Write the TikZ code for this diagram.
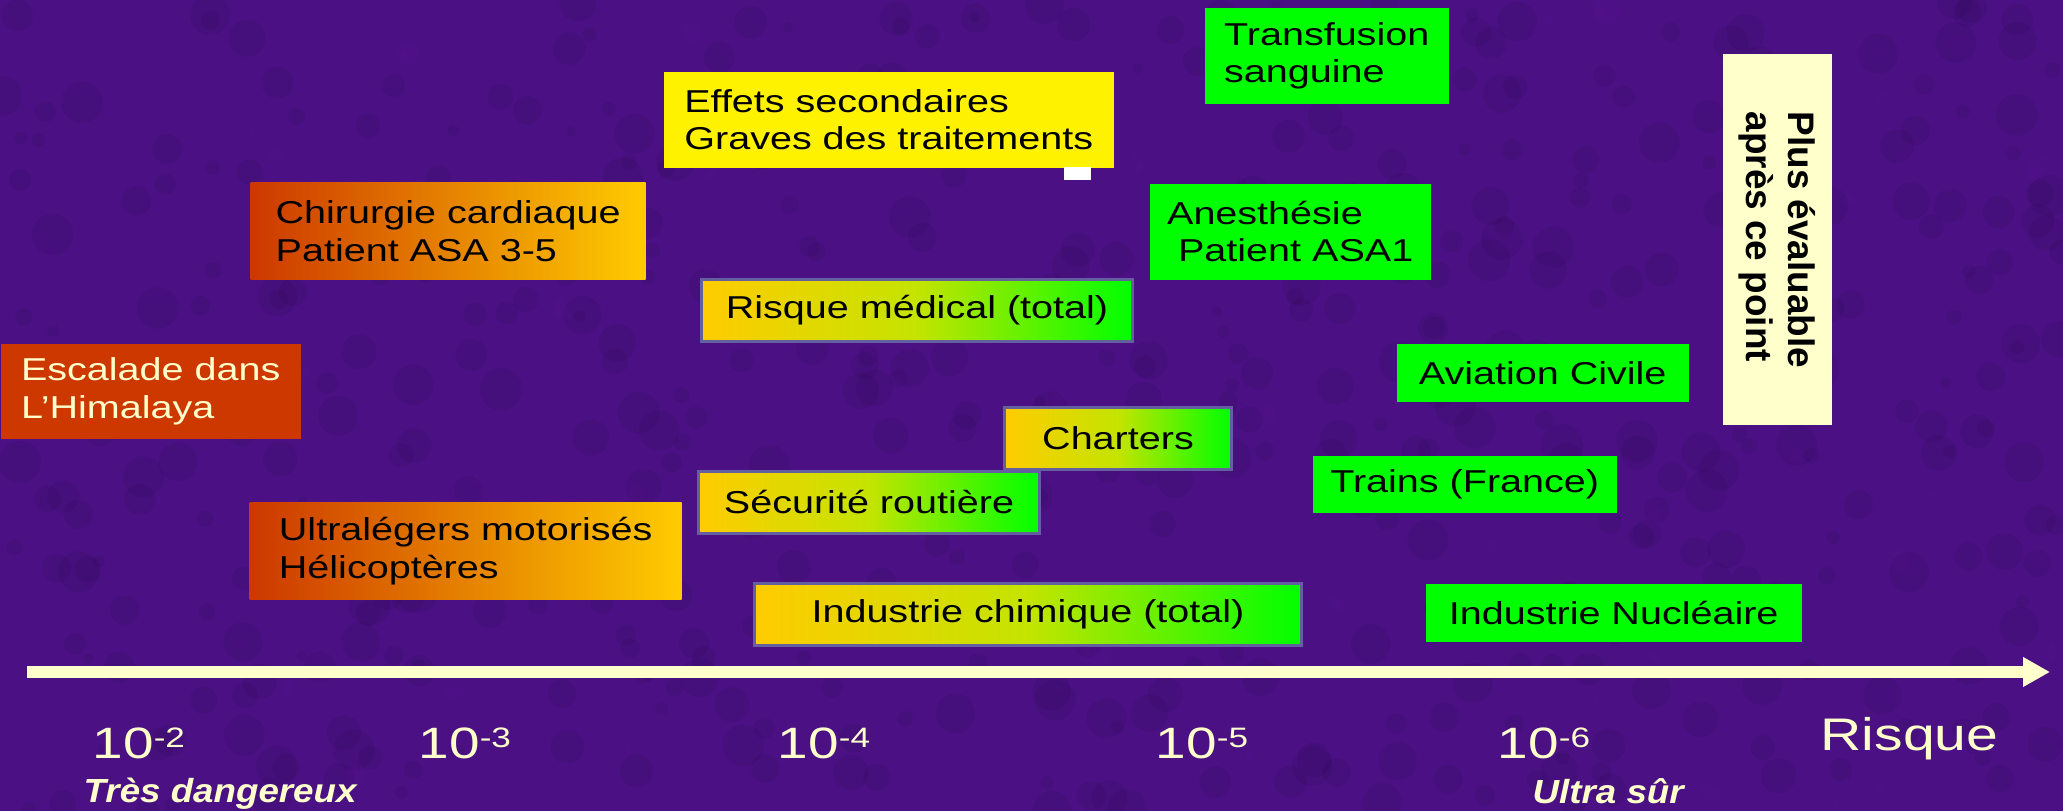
\documentclass[tikz,border=0pt]{standalone}
\usepackage{fontspec}
\setmainfont{Liberation Sans}[FakeStretch=1.25]
\newfontfamily\axefont{Liberation Sans}[FakeStretch=1.1]
\newfontfamily\droitfont{Liberation Sans}
\usetikzlibrary{arrows.meta}

\definecolor{fondviolet}{RGB}{74,16,132}
\definecolor{tacheviolet}{RGB}{115,30,150}
\definecolor{creme}{RGB}{255,255,204}
\definecolor{rouille}{RGB}{204,56,0}
\definecolor{orjaune}{RGB}{255,204,0}
\definecolor{jaunevert}{RGB}{196,228,0}
\definecolor{vertvif}{RGB}{0,255,0}
\definecolor{bordgris}{RGB}{100,96,160}

\newcommand{\boitefont}{\fontsize{9}{10.6}\selectfont}
\newcommand{\exposant}[1]{\raisebox{3.1pt}{\fontsize{8}{8}\selectfont #1}}

\begin{document}
\begin{tikzpicture}[x=0.1mm,y=-0.1mm,
    boite/.style={anchor=north west, inner sep=0pt, align=left, font=\boitefont, text=black},
    vert/.style={boite, fill=vertvif},
    jaune/.style={boite, fill=yellow},
    chaud/.style={boite, left color=rouille, right color=orjaune},
    tiede/.style={boite, left color=orjaune, right color=vertvif, middle color=jaunevert, draw=bordgris, line width=0.3mm, align=center},
    graduation/.style={anchor=base west, inner sep=0pt, text=creme, font=\fontsize{12.5}{12.5}\selectfont},
    qualif/.style={anchor=base west, inner sep=0pt, text=creme, font=\axefont\bfseries\itshape\fontsize{9.5}{11}\selectfont}]
    % fond marbre
    \useasboundingbox (0,0) rectangle (2063,811);
    \fill[fondviolet] (0,0) rectangle (2063,811);
    \begin{scope}
        \clip (0,0) rectangle (2063,811);
        \pgfmathsetseed{17}
        \foreach \i in {1,...,500} {
                \fill[black, opacity=0.06] ({rnd*2063},{rnd*811}) circle ({5+rnd*16});
                \fill[tacheviolet, opacity=0.06] ({rnd*2063},{rnd*811}) circle ({4+rnd*12});
            }
    \end{scope}

    % boites du haut
    \node[vert, minimum width=24.4mm, minimum height=9.6mm] (transfusion) at (1204,7) {Transfusion\\sanguine};
    \node[jaune, minimum width=45mm, minimum height=9.6mm] (effets) at (663,71) {Effets secondaires\\Graves des traitements};
    \fill[white] (1064,167) rectangle (1091,180);
    \node[chaud, minimum width=39.5mm, minimum height=9.7mm] (chirurgie) at (250,182) {Chirurgie cardiaque\\Patient ASA 3-5};
    \node[vert, minimum width=28.1mm, minimum height=9.6mm] (anesthesie) at (1149,183) {Anesthésie\\\mbox{}\ Patient ASA1};
    \node[tiede, minimum width=43.1mm, minimum height=6.2mm] (medical) at (700,278) {Risque médical (total)};
    \node[boite, fill=rouille, text=creme, minimum width=30mm, minimum height=9.5mm] (escalade) at (0,343) {Escalade dans\\L’Himalaya};
    \node[vert, minimum width=29.2mm, minimum height=5.8mm] (aviation) at (1396,343) {Aviation Civile};
    \node[fill=creme, rotate=-90, inner sep=0pt, minimum width=37.1mm, minimum height=10.9mm, align=left,
        font=\droitfont\bfseries\fontsize{10.5}{12}\selectfont] (limite) at (1777,240) {Plus évaluable\\après ce point};

    % boites du bas
    \node[tiede, minimum width=22.7mm, minimum height=6.2mm] (charters) at (1003,406) {Charters};
    \node[vert, minimum width=30.4mm, minimum height=5.7mm] (trains) at (1312,455) {Trains (France)};
    \node[tiede, minimum width=34.1mm, minimum height=6.2mm] (routiere) at (697,470) {Sécurité routière};
    \node[chaud, minimum width=43.2mm, minimum height=9.7mm] (ulm) at (249,502) {Ultralégers motorisés\\Hélicoptères};
    \node[tiede, minimum width=54.7mm, minimum height=6.2mm] (chimie) at (753,582) {Industrie chimique (total)};
    \node[vert, minimum width=37.6mm, minimum height=5.8mm] (nucleaire) at (1425,583) {Industrie Nucléaire};

    % axe du risque
    \coordinate (origine) at (27,672);
    \coordinate (bout) at (2050,672);
    \draw[creme, line width=1.2mm, -{Triangle[width=2.8mm,length=2.7mm]}] (origine) -- (bout);
    \foreach \x/\p in {92/2, 418/3, 777/4, 1155/5, 1497/6} {
            \node[graduation] (puiss\p) at (\x,758) {10\exposant{-\p}};
        }
    \node[graduation, font=\fontsize{13}{13}\selectfont] (risque) at (1820,750) {Risque};
    \node[qualif] (dangereux) at (83,802) {Très dangereux};
    \node[qualif] (ultrasur) at (1532,803) {Ultra sûr};
\end{tikzpicture}
\end{document}
